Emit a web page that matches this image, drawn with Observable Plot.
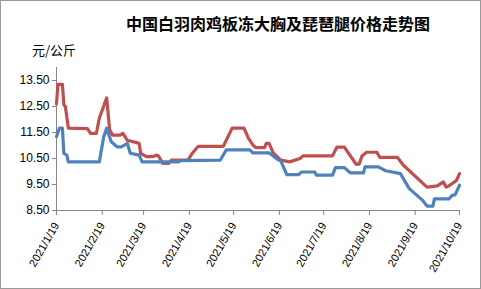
<!DOCTYPE html>
<html><head><meta charset="utf-8">
<script src="https://cdn.jsdelivr.net/npm/d3@7"></script>
<script src="https://cdn.jsdelivr.net/npm/@observablehq/plot@0.6"></script>
<style>
html,body{margin:0;padding:0;background:#fff;}
#frame{position:relative;width:481px;height:289px;overflow:hidden;background:#fff;font-family:"Liberation Sans",Arial,sans-serif;}
#border{position:absolute;left:0;top:0;width:481px;height:289px;box-sizing:border-box;border:1px solid #9a9a9a;pointer-events:none;}
#title{position:absolute;left:126px;top:15px;font:bold 16px/16px "Noto Sans CJK SC",sans-serif;color:#000;white-space:nowrap;}
#unit{position:absolute;left:32px;top:43px;font:13px/13px "Noto Sans CJK SC",sans-serif;color:#000;white-space:nowrap;}
#chart{position:absolute;left:0;top:0;}
</style></head>
<body>
<div id="frame">
<div id="chart"></div>
<div id="title">中国白羽肉鸡板冻大胸及琵琶腿价格走势图</div>
<div id="unit">元/公斤</div>
<div id="border"></div>
</div>
<script>
const redName = "板冻大胸";
const redDates = ["2021-01-19","2021-01-20","2021-01-23","2021-01-24","2021-01-25","2021-01-27","2021-02-09","2021-02-11","2021-02-15","2021-02-17","2021-02-22","2021-02-24","2021-02-26","2021-03-03","2021-03-05","2021-03-08","2021-03-15","2021-03-16","2021-03-17","2021-03-21","2021-03-25","2021-03-28","2021-03-29","2021-04-01","2021-04-05","2021-04-07","2021-04-18","2021-04-21","2021-04-25","2021-05-12","2021-05-18","2021-05-26","2021-05-29","2021-06-01","2021-06-03","2021-06-09","2021-06-10","2021-06-12","2021-06-15","2021-06-20","2021-06-26","2021-07-03","2021-07-05","2021-07-25","2021-07-28","2021-08-02","2021-08-10","2021-08-12","2021-08-14","2021-08-17","2021-08-24","2021-08-26","2021-09-07","2021-09-11","2021-09-27","2021-10-04","2021-10-08","2021-10-10","2021-10-12","2021-10-17","2021-10-19"];
const redValues = [12.6,13.35,13.35,12.57,12.5,11.67,11.65,11.47,11.47,12.05,12.83,11.6,11.4,11.4,11.47,11.2,11.1,11.08,10.7,10.57,10.57,10.63,10.6,10.31,10.31,10.44,10.44,10.7,10.97,10.97,11.67,11.67,11.28,11.02,10.92,10.92,11.08,11.08,10.7,10.44,10.37,10.5,10.6,10.6,10.94,10.94,10.28,10.28,10.6,10.74,10.74,10.54,10.54,10.24,9.4,9.45,9.6,9.4,9.45,9.66,9.92];

const blueName = "琵琶腿";
const blueDates = ["2021-01-19","2021-01-21","2021-01-23","2021-01-24","2021-01-26","2021-01-27","2021-02-17","2021-02-20","2021-02-22","2021-02-25","2021-03-01","2021-03-04","2021-03-08","2021-03-10","2021-03-16","2021-03-18","2021-04-12","2021-04-13","2021-05-10","2021-05-14","2021-05-30","2021-06-01","2021-06-12","2021-06-17","2021-06-20","2021-06-24","2021-07-02","2021-07-04","2021-07-13","2021-07-14","2021-07-25","2021-07-27","2021-08-02","2021-08-06","2021-08-15","2021-08-16","2021-08-25","2021-08-30","2021-09-09","2021-09-15","2021-09-24","2021-09-27","2021-10-01","2021-10-02","2021-10-12","2021-10-14","2021-10-16","2021-10-19"];
const blueValues = [11.34,11.67,11.67,10.7,10.63,10.37,10.37,11.34,11.67,11.15,10.95,10.95,11.08,10.7,10.63,10.37,10.37,10.42,10.44,10.83,10.83,10.72,10.72,10.5,10.4,9.88,9.88,9.98,9.98,9.86,9.86,10.15,10.15,9.95,9.95,10.18,10.18,10.03,9.92,9.34,8.89,8.67,8.67,8.95,8.95,9.08,9.1,9.47];

const xTickLabels = ["2021/1/19","2021/2/19","2021/3/19","2021/4/19","2021/5/19","2021/6/19","2021/7/19","2021/8/19","2021/9/19","2021/10/19"];
const yTicks = [8.5,9.5,10.5,11.5,12.5,13.5];
const yDomain = [8.5,14];

const parse = s => new Date(s + "T00:00:00Z");
const xTicks = xTickLabels.map(s => { const [y,m,d] = s.split("/").map(Number); return new Date(Date.UTC(y,m-1,d)); });
const fmt = d => `${d.getUTCFullYear()}/${d.getUTCMonth()+1}/${d.getUTCDate()}`;

const rows = [
  ...redDates.map((d,i) => ({date: parse(d), value: redValues[i], series: redName})),
  ...blueDates.map((d,i) => ({date: parse(d), value: blueValues[i], series: blueName}))
];

const chart = Plot.plot({
  width: 481, height: 289,
  marginLeft: 56, marginRight: 22, marginTop: 67, marginBottom: 79,
  style: {fontFamily: '"Liberation Sans", Arial, sans-serif', fontSize: "12px", color: "#000", background: "transparent"},
  x: {type: "utc", domain: [xTicks[0], xTicks[xTicks.length-1]]},
  y: {domain: yDomain},
  color: {domain: [redName, blueName], range: ["#C0504D", "#4F81BD"]},
  marks: [
    Plot.axisX(xTicks, {tickFormat: fmt, tickRotate: -60, tickSize: 5, tickPadding: 8, fontSize: 11, stroke: "#868686", fill: "#000", label: null}),
    Plot.axisY(yTicks, {tickFormat: d => d.toFixed(2), tickSize: 4, tickPadding: 3, stroke: "#868686", fill: "#000", label: null}),
    Plot.ruleY([yDomain[0]], {stroke: "#868686"}),
    Plot.ruleX([xTicks[0]], {stroke: "#868686"}),
    Plot.line(rows, {x: "date", y: "value", z: "series", stroke: "series", strokeWidth: 3.2, strokeLinejoin: "round"})
  ]
});
document.getElementById("chart").appendChild(chart);
</script>
</body></html>
